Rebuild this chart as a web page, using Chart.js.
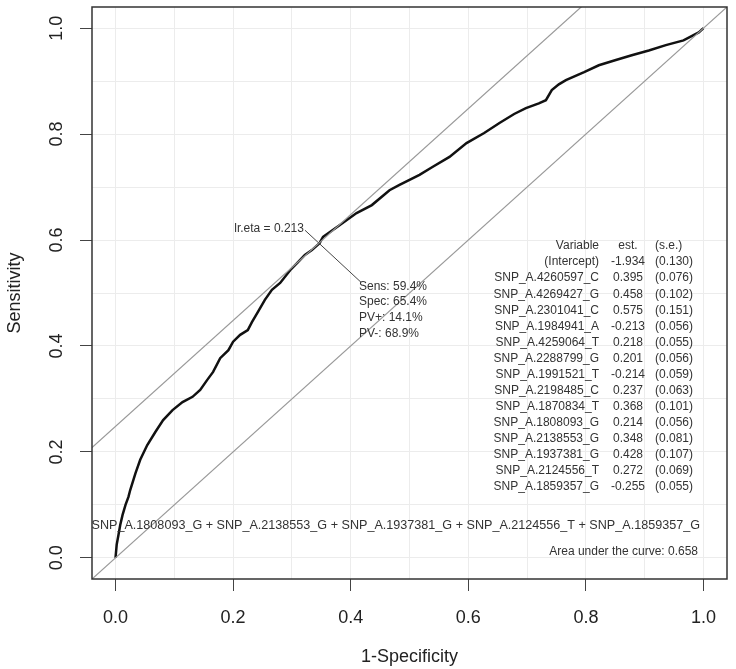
<!DOCTYPE html>
<html lang="en">
<head>
<meta charset="UTF-8" />
<title>ROC curve</title>
<script src="https://cdn.jsdelivr.net/npm/chart.js@4.4.0/dist/chart.umd.min.js"></script>
<style>
  html, body { margin: 0; padding: 0; background: #fff; }
</style>
</head>
<body>
<canvas id="roc" width="736" height="669"></canvas>
<script>
// ROC curve: 1-specificity / sensitivity
const fpr = [0, 0.002, 0.005, 0.008, 0.012, 0.017, 0.022, 0.025, 0.034, 0.042, 0.054, 0.068,
  0.081, 0.097, 0.114, 0.131, 0.144, 0.156, 0.166, 0.178, 0.192, 0.200, 0.212, 0.225, 0.232,
  0.242, 0.254, 0.266, 0.280, 0.297, 0.310, 0.322, 0.334, 0.347, 0.353, 0.381, 0.410, 0.436,
  0.466, 0.483, 0.517, 0.539, 0.568, 0.597, 0.627, 0.653, 0.678, 0.698, 0.720, 0.732, 0.742,
  0.754, 0.766, 0.797, 0.822, 0.851, 0.878, 0.907, 0.936, 0.966, 0.992, 1];
const tpr = [0, 0.025, 0.043, 0.062, 0.081, 0.100, 0.115, 0.128, 0.160, 0.185, 0.213, 0.238,
  0.260, 0.279, 0.294, 0.304, 0.317, 0.336, 0.351, 0.377, 0.392, 0.408, 0.421, 0.430, 0.445,
  0.464, 0.487, 0.506, 0.519, 0.543, 0.558, 0.572, 0.581, 0.594, 0.606, 0.628, 0.651, 0.666,
  0.694, 0.704, 0.723, 0.738, 0.757, 0.783, 0.802, 0.821, 0.838, 0.849, 0.858, 0.864, 0.883,
  0.894, 0.902, 0.917, 0.930, 0.940, 0.949, 0.958, 0.968, 0.977, 0.992, 1];

// optimal cut-off
const lrEta = 0.213;
const sens = 59.4, spec = 65.4, pvPlus = 14.1, pvMinus = 68.9;
const auc = 0.658;

// logistic model table
const variables = ['(Intercept)', 'SNP_A.4260597_C', 'SNP_A.4269427_G', 'SNP_A.2301041_C',
  'SNP_A.1984941_A', 'SNP_A.4259064_T', 'SNP_A.2288799_G', 'SNP_A.1991521_T', 'SNP_A.2198485_C',
  'SNP_A.1870834_T', 'SNP_A.1808093_G', 'SNP_A.2138553_G', 'SNP_A.1937381_G', 'SNP_A.2124556_T',
  'SNP_A.1859357_G'];
const estimates = [-1.934, 0.395, 0.458, 0.575, -0.213, 0.218, 0.201, -0.214, 0.237, 0.368,
  0.214, 0.348, 0.428, 0.272, -0.255];
const stdErrs = [0.130, 0.076, 0.102, 0.151, 0.056, 0.055, 0.056, 0.059, 0.063, 0.101, 0.056,
  0.081, 0.107, 0.069, 0.055];
const formulaTail = 'SNP_A.1808093_G + SNP_A.2138553_G + SNP_A.1937381_G + SNP_A.2124556_T + SNP_A.1859357_G';

// axes
const gridValues = [0, 0.1, 0.2, 0.3, 0.4, 0.5, 0.6, 0.7, 0.8, 0.9, 1.0];
const tickLabels = ['0.0', '0.2', '0.4', '0.6', '0.8', '1.0'];
const axisMin = -0.04, axisMax = 1.04;

const FONT = '"Liberation Sans", Arial, sans-serif';

// diagonal and tangent through the optimal point (slope 1)
const optX = 1 - spec / 100, optY = sens / 100;
const intercepts = [0, optY - optX];
const refLines = intercepts.map(b => [{ x: axisMin, y: axisMin + b }, { x: axisMax, y: axisMax + b }]);

function tickText(v) {
  const s = v.toFixed(1);
  return tickLabels.includes(s) ? s : '';
}

const annotations = {
  id: 'annotations',
  afterDatasetsDraw(chart) {
    const { ctx, chartArea: a, scales: { x, y } } = chart;
    ctx.save();
    ctx.strokeStyle = '#333';
    ctx.lineWidth = 1.5;
    ctx.strokeRect(a.left, a.top, a.right - a.left, a.bottom - a.top);

    // cut-off label
    const px = x.getPixelForValue(optX), py = y.getPixelForValue(optY);
    ctx.strokeStyle = '#444';
    ctx.lineWidth = 1;
    ctx.beginPath();
    ctx.moveTo(px - 14, py - 13);
    ctx.lineTo(px + 42, py + 39);
    ctx.stroke();

    ctx.font = '12px ' + FONT;
    ctx.fillStyle = '#333';
    ctx.textBaseline = 'middle';
    ctx.textAlign = 'right';
    ctx.fillText('lr.eta = ' + lrEta.toFixed(3), px - 15, py - 15);
    ctx.textAlign = 'left';
    const stats = ['Sens: ' + sens.toFixed(1) + '%', 'Spec: ' + spec.toFixed(1) + '%',
      'PV+: ' + pvPlus.toFixed(1) + '%', 'PV-: ' + pvMinus.toFixed(1) + '%'];
    stats.forEach((s, i) => ctx.fillText(s, px + 40, py + 43 + i * 15.7));

    // model table
    const top = a.top + 239, step = 16.07;
    const cVar = a.right - 128, cEst = a.right - 99, cSe = a.right - 72;
    ctx.textAlign = 'right';
    ctx.fillText('Variable', cVar, top);
    ctx.textAlign = 'center';
    ctx.fillText('est.', cEst, top);
    ctx.textAlign = 'left';
    ctx.fillText('(s.e.)', cSe, top);
    variables.forEach((v, i) => {
      const ty = top + (i + 1) * step;
      ctx.textAlign = 'right';
      ctx.fillText(v, cVar, ty);
      ctx.textAlign = 'center';
      ctx.fillText(estimates[i].toFixed(3), cEst, ty);
      ctx.textAlign = 'left';
      ctx.fillText('(' + stdErrs[i].toFixed(3) + ')', cSe, ty);
    });

    // formula and AUC
    ctx.textAlign = 'right';
    ctx.fillText('Area under the curve: ' + auc.toFixed(3), a.right - 29, a.bottom - 27);
    ctx.font = '12.6px ' + FONT;
    ctx.fillText(formulaTail, a.right - 27, a.bottom - 53);
    ctx.restore();
  }
};

function axisOpts(title, isY) {
  return {
    type: 'linear',
    min: axisMin,
    max: axisMax,
    afterBuildTicks: s => { s.ticks = gridValues.map(v => ({ value: v })); },
    afterFit: s => {
      if (isY) {
        s.width = 92;
        s.paddingTop = 0;
        s.paddingBottom = 0;
      } else {
        s.height = 90;
        s.paddingLeft = 0;
        s.paddingRight = 0;
      }
    },
    grid: {
      color: '#ececec',
      lineWidth: 1,
      tickLength: 12,
      tickColor: c => (c.tick && c.tick.label ? '#444' : 'rgba(0,0,0,0)')
    },
    border: { display: false },
    ticks: {
      autoSkip: false,
      callback: v => tickText(v),
      color: '#222',
      font: { family: FONT, size: 18 },
      padding: isY ? 10 : 16,
      minRotation: isY ? 90 : 0,
      maxRotation: isY ? 90 : 0,
      crossAlign: isY ? 'center' : 'near'
    },
    title: {
      display: true,
      text: title,
      color: '#222',
      font: { family: FONT, size: 18 },
      padding: isY ? { top: 4, bottom: 0 } : { top: 0, bottom: 1 }
    }
  };
}

new Chart(document.getElementById('roc'), {
  type: 'scatter',
  data: {
    datasets: [
      {
        data: refLines[0],
        showLine: true,
        borderColor: '#999',
        borderWidth: 1.2,
        pointRadius: 0
      },
      {
        data: refLines[1],
        showLine: true,
        borderColor: '#999',
        borderWidth: 1.2,
        pointRadius: 0
      },
      {
        data: fpr.map((v, i) => ({ x: v, y: tpr[i] })),
        showLine: true,
        borderColor: '#111',
        borderWidth: 2.5,
        pointRadius: 0
      }
    ]
  },
  options: {
    responsive: false,
    animation: false,
    devicePixelRatio: 1,
    layout: { padding: { top: 7, right: 9, left: 0, bottom: 0 } },
    plugins: { legend: { display: false }, tooltip: { enabled: false } },
    scales: {
      x: axisOpts('1-Specificity', false),
      y: axisOpts('Sensitivity', true)
    }
  },
  plugins: [annotations]
});
</script>
</body>
</html>
